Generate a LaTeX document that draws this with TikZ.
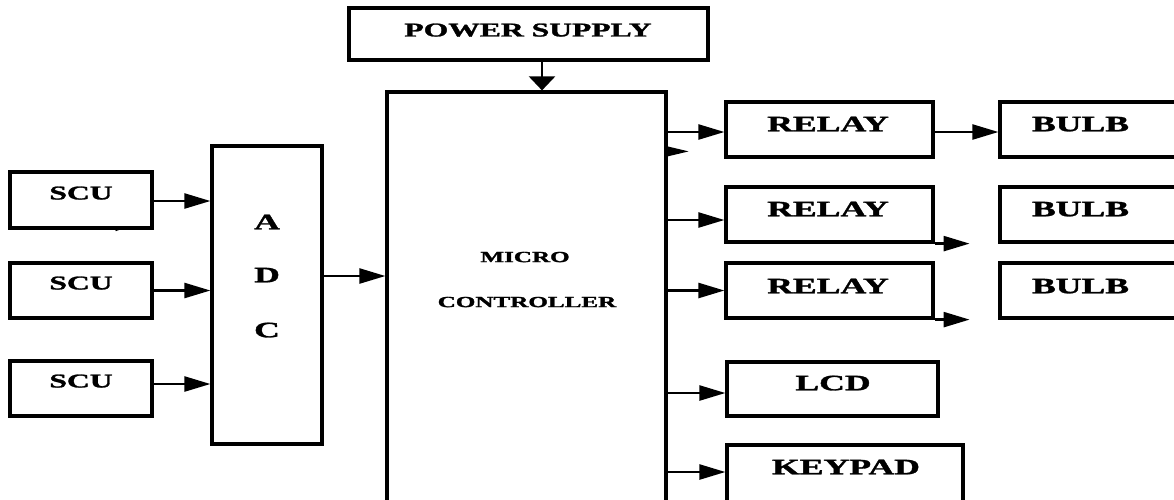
\documentclass[tikz,border=0pt]{standalone}
\usepackage{fontspec}
\setmainfont{Liberation Serif}[BoldFeatures={FakeBold=1.3}]
\usetikzlibrary{arrows.meta}
\newcommand{\wtxt}[1]{\scalebox{1.62}[1]{#1}}
\begin{document}
\begin{tikzpicture}[x=1pt,y=-1pt,
  box/.style={draw,line width=3.2pt,inner sep=0pt},
  lbl/.style={inner sep=0pt,text height=14.5pt,text depth=0pt,font=\bfseries\fontsize{22}{26}\selectfont},
  lbls/.style={lbl,text height=12.9pt,font=\bfseries\fontsize{19.5}{23}\selectfont},
  lblm/.style={lbl,text height=10.2pt,font=\bfseries\fontsize{15.5}{18}\selectfont},
  arr/.style={line width=2.4pt,-{Triangle[length=26pt,width=15pt]}}]
\useasboundingbox (0,0) rectangle (1174,499);
\begin{scope}
\clip (0,0) rectangle (1174,499);
% boxes
\node[box,minimum width=359pt,minimum height=52pt] (ps) at (528.5,34) {};
\node[box,minimum width=279pt,minimum height=428pt] (mc) at (526.5,306) {};
\node[box,minimum width=110pt,minimum height=298pt] (adc) at (267,295) {};
\node[box,minimum width=142pt,minimum height=56pt] (scu1) at (81,200) {};
\node[box,minimum width=142pt,minimum height=55pt] (scu2) at (81,290.5) {};
\node[box,minimum width=142pt,minimum height=55pt] (scu3) at (81,388.5) {};
\node[box,minimum width=207pt,minimum height=55pt] (r1) at (829.5,129.5) {};
\node[box,minimum width=207pt,minimum height=55pt] (r2) at (829.5,214.5) {};
\node[box,minimum width=207pt,minimum height=55pt] (r3) at (829.5,290.5) {};
\node[box,minimum width=190pt,minimum height=55pt] (b1) at (1095,129.5) {};
\node[box,minimum width=190pt,minimum height=55pt] (b2) at (1095,214.5) {};
\node[box,minimum width=190pt,minimum height=55pt] (b3) at (1095,290.5) {};
\node[box,minimum width=211pt,minimum height=54pt] (lcd) at (832.5,389) {};
\node[box,minimum width=236pt,minimum height=75pt] (kp) at (845,482.5) {};
% labels
\node[lbls] (tps) at (528,30) {\wtxt{POWER SUPPLY}};
\node[lbls] (ts1) at (81,193) {\wtxt{SCU}};
\node[lbls] (ts2) at (81,283) {\wtxt{SCU}};
\node[lbls] (ts3) at (81,381) {\wtxt{SCU}};
\node[lbl] (ta) at (267,222) {\wtxt{A}};
\node[lbl] (td) at (267,275) {\wtxt{D}};
\node[lbl] (tc) at (267,330) {\wtxt{C}};
\node[lblm] (tm1) at (525,257) {\wtxt{MICRO}};
\node[lblm] (tm2) at (527,302) {\wtxt{CONTROLLER}};
\node[lbl] (tr1) at (828,124) {\wtxt{RELAY}};
\node[lbl] (tr2) at (828,209) {\wtxt{RELAY}};
\node[lbl] (tr3) at (828,286) {\wtxt{RELAY}};
\node[lbl] (tb1) at (1080.5,124) {\wtxt{BULB}};
\node[lbl] (tb2) at (1080.5,209) {\wtxt{BULB}};
\node[lbl] (tb3) at (1080.5,286) {\wtxt{BULB}};
\node[lbl] (tl) at (833,383) {\wtxt{LCD}};
\node[lbl] (tk) at (846,467) {\wtxt{KEYPAD}};
% connectors
\draw[line width=2.4pt,-{Triangle[length=14pt,width=26pt]}] ([xshift=13.5pt]ps.south) -- ([xshift=15.5pt]mc.north);
\draw[arr] ([yshift=-1pt]scu1.east) -- ([yshift=-1pt]scu1.east -| adc.west);
\draw[arr] (scu2.east) -- (scu2.east -| adc.west);
\draw[arr] ([yshift=4.5pt]scu3.east) -- ([yshift=4.5pt]scu3.east -| adc.west);
\draw[arr] ([yshift=19pt]adc.east) -- ([yshift=19pt]adc.east -| mc.west);
\draw[arr] ([yshift=-2.5pt]r1.west -| mc.east) -- ([yshift=-2.5pt]r1.west);
\draw[arr] ([yshift=-5.5pt]r2.west -| mc.east) -- ([yshift=-5.5pt]r2.west);
\draw[arr] (r3.west -| mc.east) -- (r3.west);
\draw[arr] ([yshift=-4pt]lcd.west -| mc.east) -- ([yshift=-4pt]lcd.west);
\draw[arr] ([yshift=10.5pt]kp.west -| mc.east) -- ([yshift=10.5pt]kp.west);
\draw[arr] ([yshift=-2.5pt]r1.east) -- ([yshift=-2.5pt]r1.east -| b1.west);
\coordinate (e2) at ([xshift=35pt]r2.south east);
\coordinate (e3) at ([xshift=35pt]r3.south east);
\draw[arr] (r2.south east) -- (e2);
\draw[arr] (r3.south east) -- (e3);
% stray marks
\fill ([yshift=-56pt]mc.north east) -- ++(21,5) -- ++(-21,5) -- cycle;
\draw[line width=1.2pt] ([xshift=-38pt,yshift=-1pt]scu1.south east) -- ++(8,-3);
\end{scope}
\end{tikzpicture}
\end{document}
